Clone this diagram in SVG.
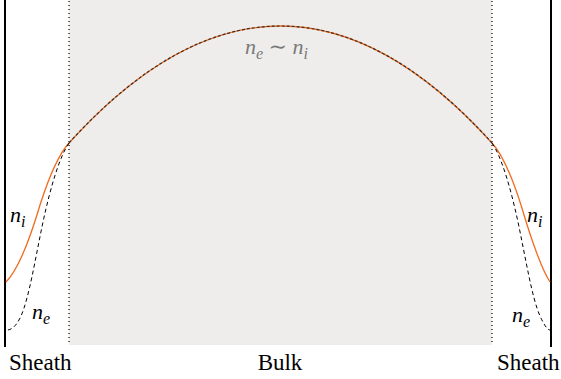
<svg xmlns="http://www.w3.org/2000/svg" width="561" height="379" viewBox="0 0 561 379">
<style>
.wall{stroke:#000;stroke-width:2;fill:none}
.dot{stroke:#000;stroke-width:1.2;stroke-dasharray:1 3;fill:none}
.ni{stroke:#f26b1d;stroke-width:1.3;fill:none}
.ne{stroke:#000;stroke-width:1;stroke-dasharray:4 3;fill:none}
.neb{stroke:#333;stroke-width:1.2;stroke-dasharray:3 2;fill:none}
text{font-family:'Liberation Serif','Times New Roman','DejaVu Serif',serif}
.m{font-style:italic;font-size:22px;fill:#000}
.sub{font-size:16px}
.s{font-size:23px;fill:#000}
</style>
<rect id="bulk-region" x="69" y="0" width="423" height="345" fill="#efedeb"/>
<g id="connectors">
<line class="wall" x1="5" y1="0" x2="5" y2="347"/>
<line class="wall" x1="551" y1="0" x2="551" y2="347"/>
<line class="dot" x1="69" y1="1" x2="69" y2="345"/>
<line class="dot" x1="492" y1="1" x2="492" y2="345"/>
<path class="ni" d="M69,143 Q280.5,-91 492,143"/>
<path class="neb" d="M69,143 Q280.5,-91 492,143"/>
<path class="ni" d="M69,143 C57,156 48,180 40,205 C32,232 20,268 6,282"/>
<path class="ne" d="M69,143 C60,156 51,185 43,222 C35,260 29,298 21,316 C16,327 11,330 7,330"/>
<path class="ni" d="M492,143 C504,156 513,180 521,205 C529,232 541,268 550,282"/>
<path class="ne" d="M492,143 C501,156 510,185 518,222 C526,260 532,298 540,316 C545,327 548,330 550,330"/>
</g>
<g id="labels">
<text class="m" x="10" y="222" font-family="Liberation Serif, serif">n<tspan class="sub" dy="5">i</tspan></text>
<text class="m" x="32" y="319" font-family="Liberation Serif, serif">n<tspan class="sub" dy="5">e</tspan></text>
<text class="m" x="527" y="222" font-family="Liberation Serif, serif">n<tspan class="sub" dy="5">i</tspan></text>
<text class="m" x="512" y="322" font-family="Liberation Serif, serif">n<tspan class="sub" dy="5">e</tspan></text>
<text class="m" x="245" y="54" style="fill:#7a7a7a" font-family="Liberation Serif, serif">n<tspan class="sub" dy="5">e</tspan><tspan dy="-5" font-style="normal"> ∼ </tspan>n<tspan class="sub" dy="5">i</tspan></text>
<text class="s" x="9" y="370" font-family="Liberation Serif, serif">Sheath</text>
<text class="s" x="280" y="370" text-anchor="middle" font-family="Liberation Serif, serif">Bulk</text>
<text class="s" x="497" y="370" font-family="Liberation Serif, serif">Sheath</text>
</g>
</svg>
